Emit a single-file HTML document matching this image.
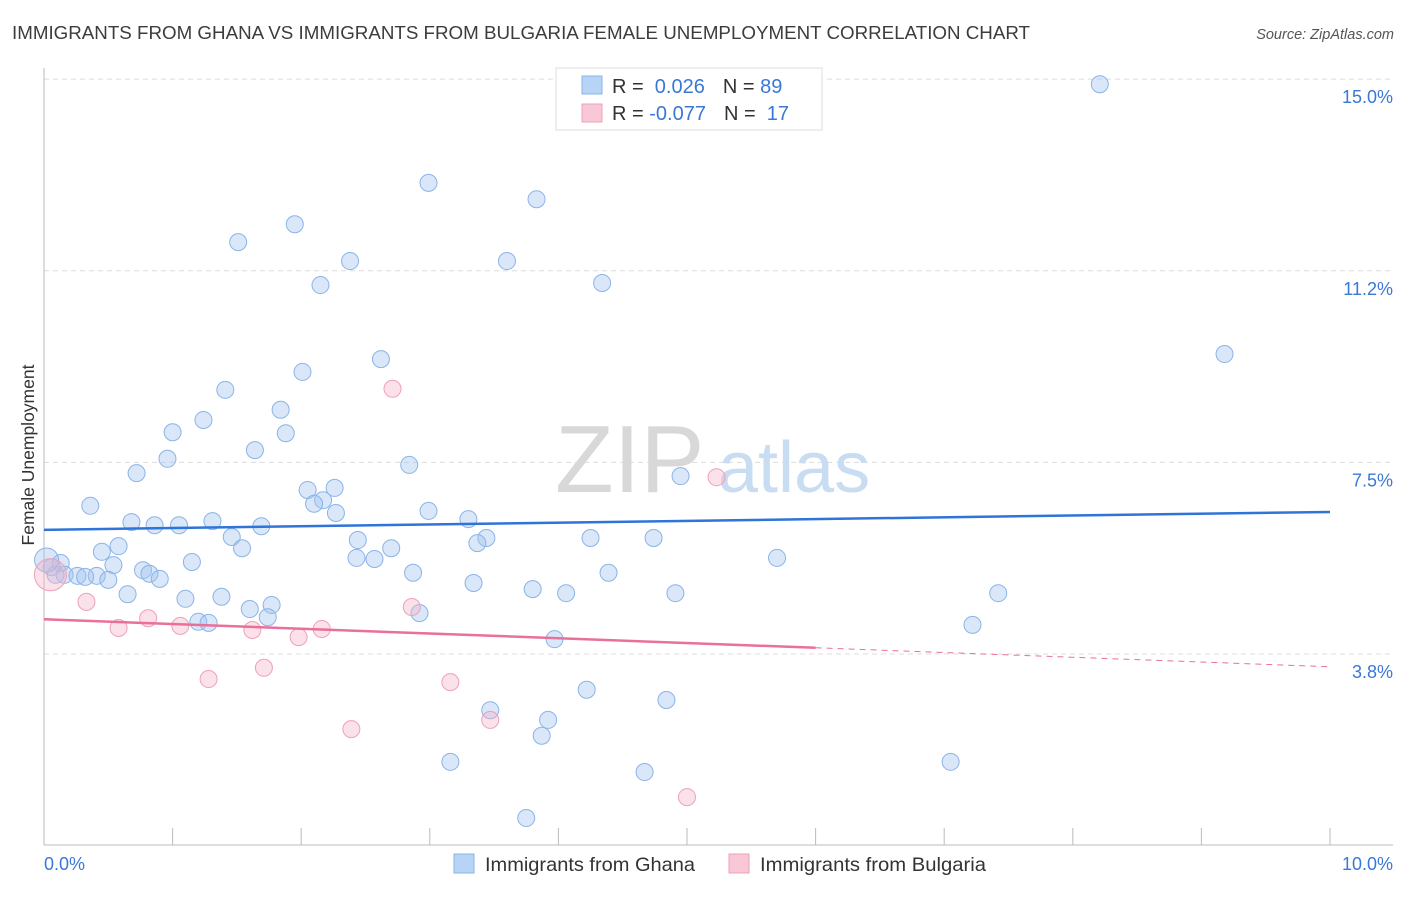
<!DOCTYPE html>
<html><head><meta charset="utf-8"><style>
body{margin:0;background:#fff;font-family:"Liberation Sans",sans-serif}
svg text{font-family:"Liberation Sans",sans-serif}
</style></head><body>
<svg id="chart" width="1406" height="892">
<text x="12" y="39" font-size="18.5" fill="#3c3c3c" textLength="1018" lengthAdjust="spacingAndGlyphs">IMMIGRANTS FROM GHANA VS IMMIGRANTS FROM BULGARIA FEMALE UNEMPLOYMENT CORRELATION CHART</text>
<text x="1394" y="39" font-size="14.5" fill="#555" font-style="italic" text-anchor="end">Source: ZipAtlas.com</text>
<g id="grid"></g>
<g id="axes"></g>
<text x="555" y="492" font-size="96" fill="#d8d8d8" font-family="Liberation Serif">ZIP</text>
<text x="718" y="492" font-size="72" fill="#c8dcf2">atlas</text>
<g id="pts"></g>
<g id="trends"></g>
<text transform="translate(34,455) rotate(-90)" font-size="17.5" fill="#333" text-anchor="middle">Female Unemployment</text>
<g>
<rect x="556" y="68" width="266" height="62" fill="#fff" stroke="#ddd"/>
<rect x="582" y="76" width="20" height="18" fill="#b7d3f5" stroke="#8ab4e8"/>
<rect x="582" y="104" width="20" height="18" fill="#f8c8d6" stroke="#f0a0b8"/>
<text x="612" y="93" font-size="20" fill="#333">R = <tspan fill="#3a78d6">&#160;0.026</tspan><tspan dx="18">N = </tspan><tspan fill="#3a78d6">89</tspan></text>
<text x="612" y="120" font-size="20" fill="#333">R = <tspan fill="#3a78d6">-0.077</tspan><tspan dx="18">N = </tspan><tspan fill="#3a78d6">&#160;17</tspan></text>
</g>
<g>
<rect x="454" y="854" width="20" height="19" fill="#b7d3f5" stroke="#8ab4e8"/>
<text x="485" y="871" font-size="19.5" fill="#333" textLength="210" lengthAdjust="spacingAndGlyphs">Immigrants from Ghana</text>
<rect x="729" y="854" width="20" height="19" fill="#f8c8d6" stroke="#f0a0b8"/>
<text x="760" y="871" font-size="19.5" fill="#333" textLength="226" lengthAdjust="spacingAndGlyphs">Immigrants from Bulgaria</text>
</g>
</svg>
<script>
const ghanaX=[8.21,2.99,3.83,1.95,1.51,2.38,3.60,2.15,4.34,9.18,2.62,2.01,1.41,1.84,1.24,1.00,1.88,1.64,0.96,2.84,0.72,4.95,2.05,2.26,2.17,2.10,0.36,2.27,2.99,0.68,0.86,1.05,1.31,1.69,3.30,1.46,3.44,3.37,4.25,4.74,0.58,0.45,1.54,2.44,2.70,2.43,2.57,5.70,1.15,0.13,0.54,0.77,0.82,0.16,0.26,0.41,0.32,0.90,0.50,2.87,4.39,3.34,3.80,4.06,4.91,7.42,0.65,1.38,1.10,1.60,1.77,1.74,2.92,1.20,1.28,7.22,3.97,4.22,4.84,3.47,3.92,3.87,3.16,7.05,4.67,3.75,0.06,0.09,0.02];
const ghanaY=[14.90,12.97,12.65,12.16,11.81,11.44,11.44,10.97,11.01,9.62,9.52,9.27,8.92,8.53,8.33,8.09,8.07,7.74,7.57,7.45,7.29,7.23,6.96,7.00,6.76,6.69,6.65,6.51,6.55,6.33,6.27,6.27,6.35,6.25,6.39,6.04,6.02,5.92,6.02,6.02,5.86,5.75,5.82,5.98,5.82,5.63,5.61,5.63,5.55,5.53,5.49,5.39,5.32,5.30,5.28,5.28,5.26,5.22,5.20,5.34,5.34,5.14,5.02,4.94,4.94,4.94,4.92,4.87,4.83,4.63,4.71,4.47,4.55,4.38,4.36,4.32,4.04,3.05,2.85,2.65,2.46,2.15,1.64,1.64,1.44,0.54,5.45,5.30,5.59];
const bulgX=[0.05,0.33,0.58,0.81,1.06,1.62,1.98,2.16,2.86,2.71,5.23,1.28,1.71,3.16,2.39,3.47,5.00];
const bulgY=[5.30,4.77,4.26,4.45,4.30,4.22,4.08,4.24,4.67,8.94,7.21,3.26,3.48,3.20,2.28,2.46,0.95];
const ghanaTrend=[6.18,6.53];
const bulgTrend=[4.43,3.50];
const bulgSolidEnd=6;
const yTicks=[3.75,7.5,11.25,15];
const yTickLabels=["3.8%","7.5%","11.2%","15.0%"];
const xTicks=[0,1,2,3,4,5,6,7,8,9,10];
const xLabels=["0.0%","10.0%"];

const NS="http://www.w3.org/2000/svg";
const X=v=>44+v*128.6, Y=v=>654-(v-3.75)*51.1;
function mk(t,a,p){const e=document.createElementNS(NS,t);for(const k in a)e.setAttribute(k,a[k]);p.appendChild(e);return e;}
const grid=document.getElementById('grid'),axes=document.getElementById('axes'),pts=document.getElementById('pts'),tr=document.getElementById('trends');
yTicks.forEach((v,i)=>{
 const l=mk('line',{x1:44,x2:1393,y1:Y(v),y2:Y(v),stroke:'#dcdcdc','stroke-dasharray':'5,4'},grid);
 
 
 const t=mk('text',{x:1393,y:Y(v)+24,'font-size':18,fill:'#3a78d6','text-anchor':'end'},axes);
 t.textContent=yTickLabels[i];
 
 
});
const ax=mk('line',{x1:44,x2:44,y1:68,y2:845,stroke:'#bbb'},axes);


const bx=mk('line',{x1:44,x2:1393,y1:845,y2:845,stroke:'#bbb'},axes);


xTicks.forEach(v=>{
 const t=mk('line',{x1:X(v),x2:X(v),y1:828,y2:845,stroke:'#bbb'},axes);
 
 
});
const xl0=mk('text',{x:44,y:870,'font-size':18,fill:'#3a78d6'},axes);xl0.textContent=xLabels[0];


const xl1=mk('text',{x:1393,y:870,'font-size':18,fill:'#3a78d6','text-anchor':'end'},axes);xl1.textContent=xLabels[1];


ghanaX.forEach((x,i)=>{
 const r=(i===ghanaX.length-1)?12:8.5;
 const c=mk('circle',{cx:X(x),cy:Y(ghanaY[i]),r:r,fill:'rgba(160,196,240,0.4)',stroke:'#8ab4e8','stroke-width':1},pts);
 
 
});
bulgX.forEach((x,i)=>{
 const r=i===0?16:8.5;
 const c=mk('circle',{cx:X(x),cy:Y(bulgY[i]),r:r,fill:'rgba(245,180,200,0.4)',stroke:'#f0a0b8','stroke-width':1},pts);
 
 
});
const gl=mk('line',{x1:X(0),y1:Y(ghanaTrend[0]),x2:X(10),y2:Y(ghanaTrend[1]),stroke:'#2f74d8','stroke-width':2.5},tr);


const bm=bulgTrend[0]+(bulgTrend[1]-bulgTrend[0])*bulgSolidEnd/10;
const bl=mk('line',{x1:X(0),y1:Y(bulgTrend[0]),x2:X(bulgSolidEnd),y2:Y(bm),stroke:'#e8709a','stroke-width':2.5},tr);


const bd=mk('line',{x1:X(bulgSolidEnd),y1:Y(bm),x2:X(10),y2:Y(bulgTrend[1]),stroke:'#e8709a','stroke-width':1,'stroke-dasharray':'6,5'},tr);


</script>
</body></html>
